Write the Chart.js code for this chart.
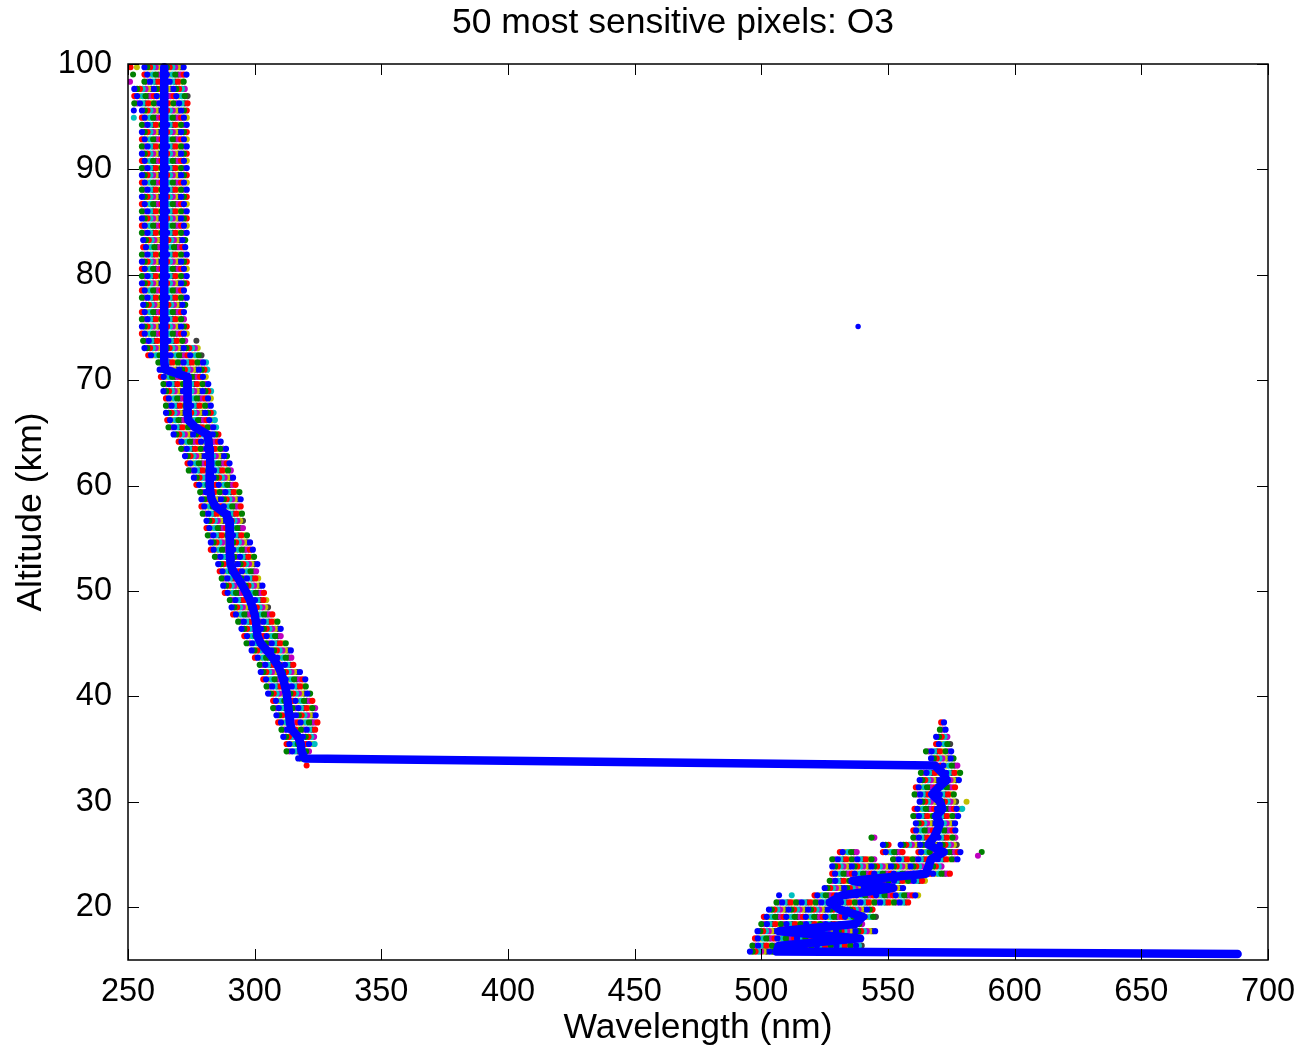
<!DOCTYPE html>
<html>
<head>
<meta charset="utf-8">
<script src="https://cdn.jsdelivr.net/npm/chart.js@4.4.1/dist/chart.umd.min.js"></script>
<style>
  html, body { margin: 0; padding: 0; background: #fff; }
  #wrap { width: 1303px; height: 1050px; }
</style>
</head>
<body>
<div id="wrap"><canvas id="canvas-chart" width="1303" height="1050"></canvas></div>
<script>
// altitude grid of the retrieval (km), top row first
var altitudes = [
    99.69, 99.00, 98.32, 97.64, 96.96, 96.27, 95.59, 94.91, 94.23, 93.54,
    92.86, 92.18, 91.49, 90.81, 90.13, 89.45, 88.76, 88.08, 87.40, 86.71,
    86.03, 85.35, 84.66, 83.98, 83.30, 82.62, 81.93, 81.25, 80.57, 79.88,
    79.20, 78.52, 77.83, 77.15, 76.47, 75.79, 75.10, 74.42, 73.74, 73.05,
    72.37, 71.69, 71.00, 70.32, 69.64, 68.96, 68.27, 67.59, 66.91, 66.22,
    65.54, 64.86, 64.17, 63.49, 62.81, 62.12, 61.44, 60.76, 60.08, 59.39,
    58.71, 58.03, 57.34, 56.66, 55.98, 55.29, 54.61, 53.93, 53.25, 52.56,
    51.88, 51.20, 50.51, 49.83, 49.15, 48.46, 47.78, 47.10, 46.42, 45.73,
    45.05, 44.37, 43.68, 43.00, 42.32, 41.63, 40.95, 40.27, 39.59, 38.90,
    38.22, 37.54, 36.85, 36.17, 35.49, 34.80, 34.12, 33.44, 32.76, 32.07,
    31.39, 30.71, 30.02, 29.34, 28.66, 27.97, 27.29, 26.61, 25.93, 25.24,
    24.56, 23.88, 23.19, 22.51, 21.83, 21.14, 20.46, 19.78, 19.10, 18.41,
    17.73, 17.05, 16.36, 15.80, 15.58
];

// thick blue line: wavelength (nm) per altitude row
var lineWavelength = [
    264.3, 264.3, 264.3, 264.3, 264.3, 264.3, 264.3, 264.3, 264.3, 264.3,
    264.3, 264.3, 264.3, 264.3, 264.3, 264.3, 264.3, 264.3, 264.3, 264.3,
    264.3, 264.3, 264.3, 264.3, 264.3, 264.3, 264.3, 264.3, 264.3, 264.3,
    264.3, 264.3, 264.3, 264.3, 264.3, 264.3, 264.3, 264.3, 264.3, 264.3,
    264.3, 264.3, 264.8, 273.4, 273.5, 273.5, 273.5, 273.6, 273.6, 273.8,
    276.5, 281.3, 281.8, 282.0, 282.3, 282.5, 282.3, 282.2, 282.3, 282.5,
    283.0, 284.5, 288.5, 290.0, 290.2, 290.2, 290.2, 290.2, 290.3, 290.5,
    291.5, 293.5, 295.2, 296.8, 298.1, 299.2, 300.0, 300.5, 300.8, 301.1,
    302.4, 304.8, 307.1, 309.0, 310.3, 311.3, 312.0, 312.6, 313.0, 313.3,
    313.6, 313.9, 314.6, 317.2, 318.2, 318.5, 319.8, 568.5, 571.5, 573.2,
    570.0, 567.5, 570.5, 571.5, 569.0, 570.5, 569.5, 568.0, 566.0, 572.0,
    567.0, 566.0, 565.0, 536.0, 552.0, 532.0, 527.0, 531.0, 540.0, 537.0,
    507.0, 539.0, 507.0, 506.0, 688.0
];

// UV band of the 50 pixels: first / last pixel wavelength per row
var uvLo = [
    256.5, 256.5, 256.5, 252.5, 252.5, 252.5, 255.5, 255.5, 255.5, 255.5,
    255.5, 255.5, 255.5, 255.5, 255.5, 255.5, 255.5, 255.5, 255.5, 255.5,
    255.5, 255.5, 255.5, 255.5, 256.0, 256.0, 255.5, 255.5, 255.5, 255.5,
    255.5, 255.5, 255.5, 256.0, 255.5, 255.5, 255.5, 255.5, 256.0, 256.5,
    258.0, 262.0, 262.5, 263.0, 264.0, 264.0, 265.0, 265.0, 265.0, 265.5,
    266.0, 268.0, 270.0, 271.0, 272.5, 273.5, 274.0, 276.0, 277.0, 278.5,
    279.0, 279.0, 279.5, 281.0, 281.0, 281.5, 282.7, 282.7, 284.3, 285.6,
    286.2, 287.0, 287.6, 288.2, 290.2, 290.9, 291.5, 293.5, 294.8, 295.9,
    296.8, 298.8, 300.1, 302.0, 302.4, 303.4, 304.7, 305.3, 307.3, 307.3,
    308.6, 309.3, 310.6, 311.3, 312.6, 312.6, 317.2
];
var uvHi = [
    272.0, 273.5, 273.0, 273.0, 274.5, 274.0, 273.5, 274.0, 273.5, 273.5,
    273.5, 274.0, 273.5, 274.0, 273.5, 273.5, 274.0, 273.5, 273.5, 273.5,
    274.0, 273.5, 273.5, 273.5, 273.5, 273.5, 274.0, 274.0, 273.5, 273.5,
    273.5, 273.0, 273.5, 273.5, 273.0, 273.0, 273.5, 273.5, 273.5, 278.0,
    280.0, 281.5, 282.0, 281.5, 282.5, 283.0, 283.5, 283.5, 284.0, 284.5,
    285.5, 286.0, 287.5, 289.5, 290.0, 291.0, 291.0, 292.5, 293.0, 294.5,
    294.5, 294.8, 295.2, 296.0, 296.0, 297.2, 299.0, 299.5, 300.8, 301.4,
    301.4, 302.2, 303.1, 304.4, 305.1, 305.7, 307.7, 309.0, 310.3, 311.0,
    312.9, 314.3, 314.9, 315.6, 318.9, 320.2, 320.8, 322.1, 322.8, 324.7,
    324.1, 324.8, 324.8, 324.1, 324.1, 322.1, 320.8
];

// visible band segments: row index, first / last wavelength
var visRow = [91, 92, 93, 94, 95, 96, 97, 98, 99, 100, 101, 102, 103, 104, 105, 106,
    107, 107, 108, 108, 109, 109, 109, 110, 110, 111, 112, 113, 114, 115, 116,
    117, 118, 119, 120, 121, 122, 123];
var visLo = [571.0, 570.5, 569.0, 569.0, 565.0, 567.0, 563.0, 563.0, 562.5, 561.0, 560.5, 562.5, 560.5, 560.0, 561.0, 560.0,
    543.5, 560.0, 548.0, 555.0, 531.0, 548.0, 562.0, 528.0, 552.0, 528.0, 528.0, 527.0, 525.0, 521.0, 506.0,
    503.0, 501.0, 500.0, 498.5, 497.5, 496.5, 495.5];
var visHi = [572.5, 573.5, 574.5, 575.0, 575.0, 576.0, 577.5, 579.0, 578.0, 577.5, 576.0, 577.5, 580.0, 578.0, 577.0, 577.0,
    545.5, 577.0, 551.0, 578.0, 538.0, 556.0, 579.0, 545.0, 578.0, 572.0, 575.0, 565.0, 557.0, 562.0, 558.0,
    545.0, 546.0, 540.0, 545.0, 535.0, 540.0, 530.0];

// single pixels away from the bands
var strayNm = [251.0, 253.5, 252.0, 250.8, 252.3, 252.3, 277.0, 320.5, 581.0, 587.0, 585.5, 507.0, 512.0];
var strayAlt = [99.69, 99.69, 99.00, 98.32, 95.59, 94.91, 73.74, 33.44, 30.02, 25.24, 24.90, 21.14, 21.14];
var outlierNm = [538.2];
var outlierAlt = [75.10];

var xTicks = [250, 300, 350, 400, 450, 500, 550, 600, 650, 700];
var yTicks = [20, 30, 40, 50, 60, 70, 80, 90, 100];

// matlab colour order
var colors = ['#0000ff', '#008000', '#ff0000', '#00bfbf', '#bf00bf', '#bfbf00', '#404040'];
var FONT = "'Liberation Sans', Arial, Helvetica, sans-serif";

var segments = [];
uvLo.forEach(function (lo, k) {
    segments.push([k, lo, uvHi[k]]);
});
visRow.forEach(function (k, i) {
    segments.push([k, visLo[i], visHi[i]]);
});

var datasets = [];

datasets.push({
    data: lineWavelength.map(function (w, k) { return { x: w, y: altitudes[k] }; }),
    showLine: true,
    borderColor: '#0000ff',
    borderWidth: 8.5,
    borderJoinStyle: 'round',
    borderCapStyle: 'round',
    pointRadius: 0,
    clip: 6,
});

datasets.push({
    data: outlierNm.map(function (w, i) { return { x: w, y: outlierAlt[i] }; }),
    pointRadius: 2.7,
    pointBackgroundColor: '#0000ff',
    pointBorderWidth: 0,
});

datasets.push({
    data: strayNm.map(function (w, i) { return { x: w, y: strayAlt[i] }; }),
    pointRadius: 3,
    pointBackgroundColor: strayNm.map(function (w, i) { return colors[(i * 3 + 2) % 7]; }),
    pointBorderWidth: 0,
});

// each band is drawn as a dotted stroke, one pass per colour, so the
// pixels show as a row of overlapping coloured dots
var mult = [1, 3, 5];
[0, 1, 2].forEach(function (g) {
    colors.forEach(function (c, ci) {
        var slot = (ci * mult[g] + g) % 7;
        var data = [];
        segments.forEach(function (s) {
            if (s[0] % 3 != g) return;
            data.push({ x: s[1], y: altitudes[s[0]] });
            data.push({ x: s[2], y: altitudes[s[0]] });
            data.push({ x: s[2], y: null });
        });
        datasets.push({
            data: data,
            showLine: true,
            spanGaps: false,
            borderColor: c,
            borderWidth: 6.2,
            borderCapStyle: 'round',
            borderDash: [0, 19.6],
            borderDashOffset: 19.6 - slot * 2.8,
            pointRadius: 0,
            clip: 4,
        });
    });
});

var frame = {
    id: 'frame',
    afterDraw: function (chart) {
        var ctx = chart.ctx;
        var a = chart.chartArea;
        var xs = chart.scales.x, ys = chart.scales.y;
        ctx.save();
        ctx.strokeStyle = '#000';
        ctx.lineWidth = 1.5;
        ctx.strokeRect(a.left, a.top, a.right - a.left, a.bottom - a.top);
        ctx.lineWidth = 1;
        ctx.beginPath();
        xTicks.forEach(function (v) {
            var px = Math.round(xs.getPixelForValue(v)) + 0.5;
            ctx.moveTo(px, a.bottom); ctx.lineTo(px, a.bottom - 11);
            ctx.moveTo(px, a.top); ctx.lineTo(px, a.top + 11);
        });
        yTicks.forEach(function (v) {
            var py = Math.round(ys.getPixelForValue(v)) + 0.5;
            ctx.moveTo(a.left, py); ctx.lineTo(a.left + 11, py);
            ctx.moveTo(a.right, py); ctx.lineTo(a.right - 11, py);
        });
        ctx.stroke();

        ctx.fillStyle = '#000';
        ctx.font = '35.5px ' + FONT;
        ctx.textAlign = 'center';
        ctx.textBaseline = 'middle';
        ctx.fillText('50 most sensitive pixels: O3', 673, 23);
        ctx.fillText('Wavelength (nm)', (a.left + a.right) / 2, 1028);
        ctx.translate(31, (a.top + a.bottom) / 2);
        ctx.rotate(-Math.PI / 2);
        ctx.fillText('Altitude (km)', 0, 0);
        ctx.restore();
    }
};

var canvas = document.getElementById('canvas-chart');
var chart = new Chart(canvas.getContext('2d'), {
    type: 'scatter',
    data: { datasets: datasets },
    plugins: [frame],
    options: {
        responsive: false,
        animation: false,
        events: [],
        layout: { padding: { left: 0, right: 35, top: 64, bottom: 0 } },
        plugins: { legend: { display: false }, tooltip: { enabled: false } },
        scales: {
            x: {
                type: 'linear', min: 250, max: 700,
                afterBuildTicks: function (s) { s.ticks = xTicks.map(function (v) { return { value: v }; }); },
                afterFit: function (s) { s.height = 90; },
                grid: { display: false },
                border: { display: false },
                ticks: { color: '#000', font: { family: FONT, size: 32.5 }, padding: 5, maxRotation: 0, autoSkip: false },
            },
            y: {
                type: 'linear', min: 15, max: 100,
                afterBuildTicks: function (s) { s.ticks = yTicks.map(function (v) { return { value: v }; }); },
                afterFit: function (s) { s.width = 128; },
                grid: { display: false },
                border: { display: false },
                ticks: { color: '#000', font: { family: FONT, size: 32.5 }, padding: 8, autoSkip: false },
            },
        },
    },
});
</script>
</body>
</html>
